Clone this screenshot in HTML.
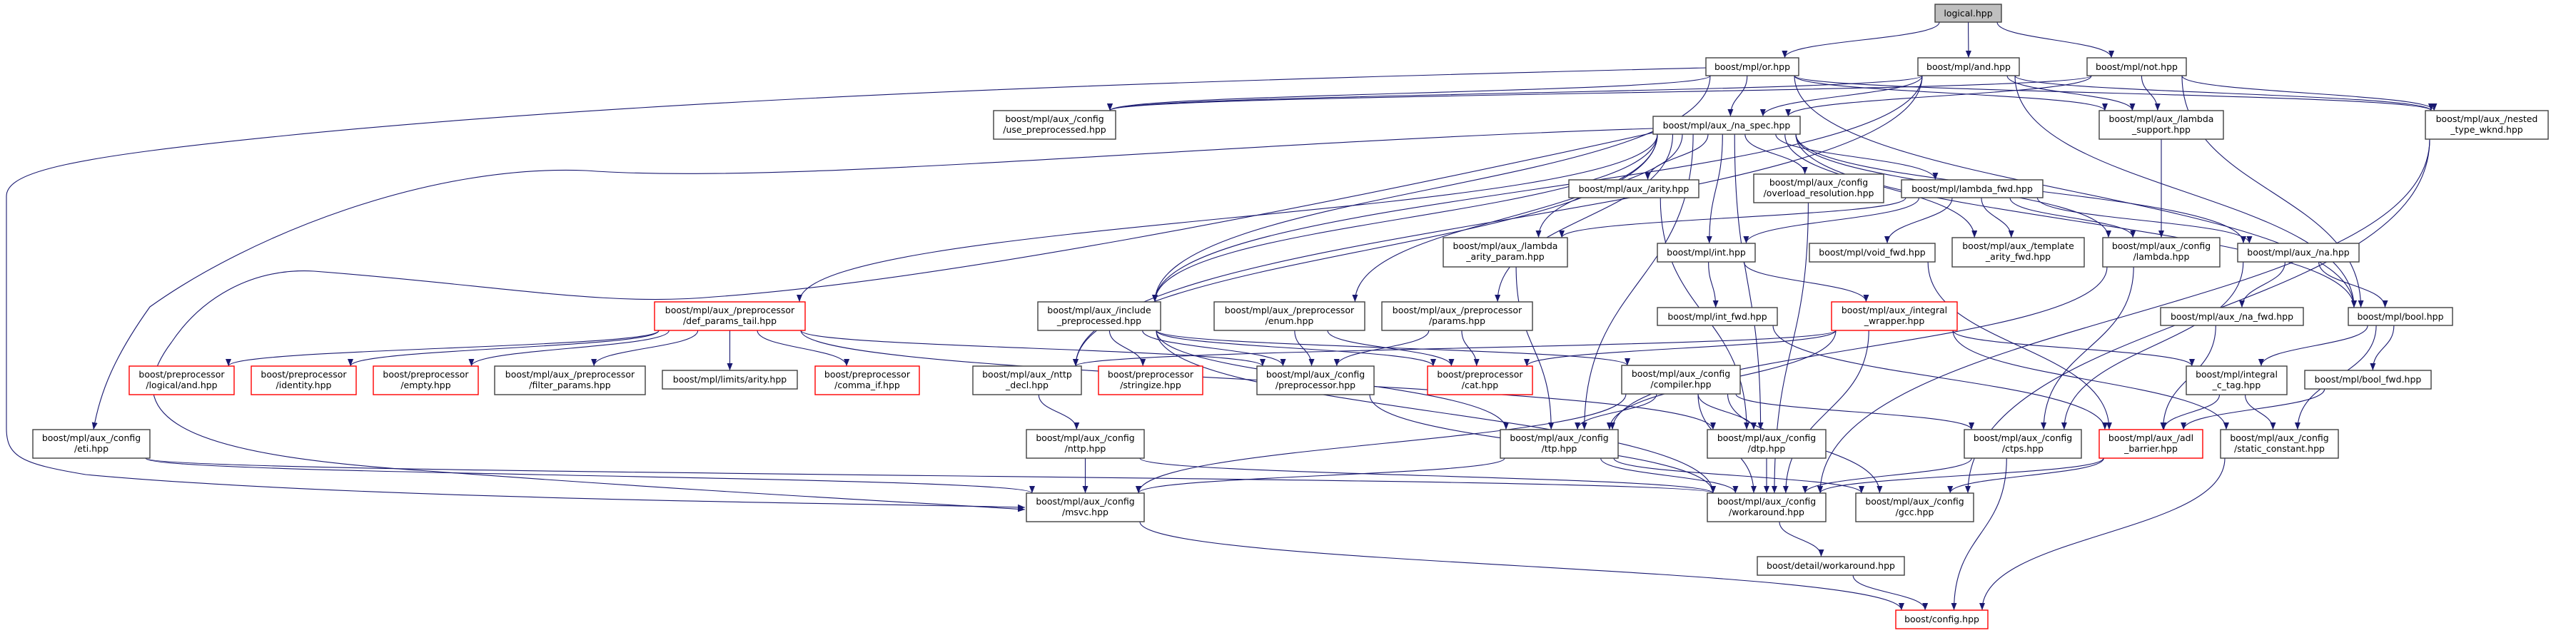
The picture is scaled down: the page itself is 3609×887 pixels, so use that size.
<!DOCTYPE html>
<html><head><meta charset="utf-8"><style>
html,body{margin:0;padding:0;background:#fff;}
svg{display:block;}
text{font-family:"DejaVu Sans","Liberation Sans",sans-serif;font-size:12.5px;fill:#000;text-anchor:middle;}
rect.n{fill:#fff;stroke:#404040;stroke-width:1.4;}
rect.r{fill:#fff;stroke:#ff0000;stroke-width:1.4;}
rect.g{fill:#bfbfbf;stroke:#404040;stroke-width:1.4;}
path.e{fill:none;stroke:#191970;stroke-width:1.1;}
</style></head><body>
<svg id="s" width="3609" height="887" viewBox="0 0 3609 887" xmlns="http://www.w3.org/2000/svg">
<defs><marker id="a" markerUnits="userSpaceOnUse" markerWidth="11" markerHeight="9" refX="10" refY="4" orient="auto"><path d="M0,0 L10,4 L0,8 z" fill="#191970"/></marker></defs>
<g id="edges">
<path class="e" marker-end="url(#a)" d="M2390,95 C1800,110 1000,130 400,190 C100,220 9,240 9,275 L9,600 C9,640 30,650 120,665 C500,700 1200,705 1436,711"/>
<path class="e" marker-end="url(#a)" d="M2316,180 C1700,200 1100,260 821,239 C600,230 350,330 210,430 C160,500 140,550 131,602"/>
<path class="e" marker-end="url(#a)" d="M2316,186 C1800,300 1300,395 1000,416 C850,430 700,400 440,380 C350,375 280,420 240,480 C150,600 300,640 600,660 C1000,690 1300,705 1436,714"/>
</g>
<g id="nodes">
<g id="logical"><rect class="g" x="2711" y="6" width="93" height="25"/><text x="2757.5" y="23">logical.hpp</text></g>
<g id="or"><rect class="n" x="2390" y="81" width="130" height="25"/><text x="2455" y="98">boost/mpl/or.hpp</text></g>
<g id="and"><rect class="n" x="2687" y="81" width="142" height="25"/><text x="2758" y="98">boost/mpl/and.hpp</text></g>
<g id="not"><rect class="n" x="2924" y="81" width="139" height="25"/><text x="2993.5" y="98">boost/mpl/not.hpp</text></g>
<g id="use_pre"><rect class="n" x="1392" y="155" width="171" height="40"/><text x="1477.5" y="171">boost/mpl/aux_/config</text><text x="1477.5" y="186">/use_preprocessed.hpp</text></g>
<g id="na_spec"><rect class="n" x="2316" y="163" width="206" height="25"/><text x="2419" y="180">boost/mpl/aux_/na_spec.hpp</text></g>
<g id="lsupport"><rect class="n" x="2941" y="155" width="174" height="40"/><text x="3028" y="171">boost/mpl/aux_/lambda</text><text x="3028" y="186">_support.hpp</text></g>
<g id="nested"><rect class="n" x="3398" y="155" width="172" height="40"/><text x="3484" y="171">boost/mpl/aux_/nested</text><text x="3484" y="186">_type_wknd.hpp</text></g>
<g id="arity"><rect class="n" x="2198" y="252" width="182" height="25"/><text x="2289" y="269">boost/mpl/aux_/arity.hpp</text></g>
<g id="overload"><rect class="n" x="2457" y="244" width="182" height="40"/><text x="2548" y="260">boost/mpl/aux_/config</text><text x="2548" y="275">/overload_resolution.hpp</text></g>
<g id="lfwd"><rect class="n" x="2664" y="252" width="198" height="25"/><text x="2763" y="269">boost/mpl/lambda_fwd.hpp</text></g>
<g id="lap"><rect class="n" x="2022" y="333" width="174" height="41"/><text x="2109" y="349">boost/mpl/aux_/lambda</text><text x="2109" y="364">_arity_param.hpp</text></g>
<g id="int"><rect class="n" x="2322" y="341" width="137" height="26"/><text x="2390.5" y="358">boost/mpl/int.hpp</text></g>
<g id="voidfwd"><rect class="n" x="2535" y="341" width="176" height="26"/><text x="2623" y="358">boost/mpl/void_fwd.hpp</text></g>
<g id="taf"><rect class="n" x="2735" y="333" width="185" height="41"/><text x="2827.5" y="349">boost/mpl/aux_/template</text><text x="2827.5" y="364">_arity_fwd.hpp</text></g>
<g id="clambda"><rect class="n" x="2946" y="333" width="164" height="41"/><text x="3028" y="349">boost/mpl/aux_/config</text><text x="3028" y="364">/lambda.hpp</text></g>
<g id="na"><rect class="n" x="3135" y="341" width="170" height="26"/><text x="3220" y="358">boost/mpl/aux_/na.hpp</text></g>
<g id="dpt"><rect class="r" x="917" y="423" width="211" height="40"/><text x="1022.5" y="439">boost/mpl/aux_/preprocessor</text><text x="1022.5" y="454">/def_params_tail.hpp</text></g>
<g id="incpre"><rect class="n" x="1454" y="423" width="172" height="40"/><text x="1540" y="439">boost/mpl/aux_/include</text><text x="1540" y="454">_preprocessed.hpp</text></g>
<g id="enum"><rect class="n" x="1701" y="423" width="211" height="40"/><text x="1806.5" y="439">boost/mpl/aux_/preprocessor</text><text x="1806.5" y="454">/enum.hpp</text></g>
<g id="params"><rect class="n" x="1936" y="423" width="211" height="40"/><text x="2041.5" y="439">boost/mpl/aux_/preprocessor</text><text x="2041.5" y="454">/params.hpp</text></g>
<g id="intfwd"><rect class="n" x="2322" y="431" width="168" height="25"/><text x="2406" y="448">boost/mpl/int_fwd.hpp</text></g>
<g id="iw"><rect class="r" x="2566" y="423" width="176" height="40"/><text x="2654" y="439">boost/mpl/aux_/integral</text><text x="2654" y="454">_wrapper.hpp</text></g>
<g id="nafwd"><rect class="n" x="3027" y="431" width="200" height="25"/><text x="3127" y="448">boost/mpl/aux_/na_fwd.hpp</text></g>
<g id="bool"><rect class="n" x="3290" y="431" width="146" height="25"/><text x="3363" y="448">boost/mpl/bool.hpp</text></g>
<g id="land"><rect class="r" x="181" y="513" width="147" height="40"/><text x="254.5" y="529">boost/preprocessor</text><text x="254.5" y="544">/logical/and.hpp</text></g>
<g id="identity"><rect class="r" x="352" y="513" width="147" height="40"/><text x="425.5" y="529">boost/preprocessor</text><text x="425.5" y="544">/identity.hpp</text></g>
<g id="empty"><rect class="r" x="523" y="513" width="147" height="40"/><text x="596.5" y="529">boost/preprocessor</text><text x="596.5" y="544">/empty.hpp</text></g>
<g id="filter"><rect class="n" x="693" y="513" width="211" height="40"/><text x="798.5" y="529">boost/mpl/aux_/preprocessor</text><text x="798.5" y="544">/filter_params.hpp</text></g>
<g id="larity"><rect class="n" x="928" y="519" width="189" height="26"/><text x="1022.5" y="536">boost/mpl/limits/arity.hpp</text></g>
<g id="comma"><rect class="r" x="1142" y="513" width="146" height="40"/><text x="1215" y="529">boost/preprocessor</text><text x="1215" y="544">/comma_if.hpp</text></g>
<g id="nttpdecl"><rect class="n" x="1363" y="513" width="152" height="40"/><text x="1439" y="529">boost/mpl/aux_/nttp</text><text x="1439" y="544">_decl.hpp</text></g>
<g id="stringize"><rect class="r" x="1539" y="513" width="146" height="40"/><text x="1612" y="529">boost/preprocessor</text><text x="1612" y="544">/stringize.hpp</text></g>
<g id="cpre"><rect class="n" x="1761" y="513" width="164" height="40"/><text x="1843" y="529">boost/mpl/aux_/config</text><text x="1843" y="544">/preprocessor.hpp</text></g>
<g id="cat"><rect class="r" x="2000" y="513" width="147" height="40"/><text x="2073.5" y="529">boost/preprocessor</text><text x="2073.5" y="544">/cat.hpp</text></g>
<g id="compiler"><rect class="n" x="2272" y="512" width="166" height="40"/><text x="2355" y="528">boost/mpl/aux_/config</text><text x="2355" y="543">/compiler.hpp</text></g>
<g id="ictag"><rect class="n" x="3063" y="513" width="141" height="40"/><text x="3133.5" y="529">boost/mpl/integral</text><text x="3133.5" y="544">_c_tag.hpp</text></g>
<g id="boolfwd"><rect class="n" x="3229" y="519" width="177" height="26"/><text x="3317.5" y="536">boost/mpl/bool_fwd.hpp</text></g>
<g id="eti"><rect class="n" x="46" y="602" width="164" height="40"/><text x="128" y="618">boost/mpl/aux_/config</text><text x="128" y="633">/eti.hpp</text></g>
<g id="nttp"><rect class="n" x="1438" y="602" width="165" height="40"/><text x="1520.5" y="618">boost/mpl/aux_/config</text><text x="1520.5" y="633">/nttp.hpp</text></g>
<g id="ttp"><rect class="n" x="2102" y="602" width="165" height="40"/><text x="2184.5" y="618">boost/mpl/aux_/config</text><text x="2184.5" y="633">/ttp.hpp</text></g>
<g id="dtp"><rect class="n" x="2392" y="602" width="166" height="40"/><text x="2475" y="618">boost/mpl/aux_/config</text><text x="2475" y="633">/dtp.hpp</text></g>
<g id="ctps"><rect class="n" x="2752" y="602" width="164" height="40"/><text x="2834" y="618">boost/mpl/aux_/config</text><text x="2834" y="633">/ctps.hpp</text></g>
<g id="adl"><rect class="r" x="2941" y="602" width="145" height="40"/><text x="3013.5" y="618">boost/mpl/aux_/adl</text><text x="3013.5" y="633">_barrier.hpp</text></g>
<g id="static"><rect class="n" x="3111" y="602" width="165" height="40"/><text x="3193.5" y="618">boost/mpl/aux_/config</text><text x="3193.5" y="633">/static_constant.hpp</text></g>
<g id="msvc"><rect class="n" x="1438" y="691" width="165" height="40"/><text x="1520.5" y="707">boost/mpl/aux_/config</text><text x="1520.5" y="722">/msvc.hpp</text></g>
<g id="workaround"><rect class="n" x="2392" y="691" width="166" height="40"/><text x="2475" y="707">boost/mpl/aux_/config</text><text x="2475" y="722">/workaround.hpp</text></g>
<g id="gcc"><rect class="n" x="2600" y="691" width="165" height="40"/><text x="2682.5" y="707">boost/mpl/aux_/config</text><text x="2682.5" y="722">/gcc.hpp</text></g>
<g id="dwork"><rect class="n" x="2462" y="780" width="206" height="26"/><text x="2565" y="797">boost/detail/workaround.hpp</text></g>
<g id="config"><rect class="r" x="2656" y="855" width="129" height="26"/><text x="2720.5" y="872">boost/config.hpp</text></g>
</g>
</svg>
<script>
(function(){
var E="logical>or logical>and logical>not or>na_spec or>use_pre or>lsupport or>nested or>bool or>incpre and>na_spec and>use_pre and>lsupport and>nested and>bool and>incpre and>nttpdecl not>na_spec not>lsupport not>nested not>bool not>use_pre na_spec>lfwd na_spec>na na_spec>arity na_spec>params na_spec>enum na_spec>dpt na_spec>lap na_spec>dtp na_spec>nttpdecl na_spec>ttp na_spec>clambda na_spec>overload na_spec>int na_spec>taf na_spec>bool na_spec>incpre lfwd>voidfwd lfwd>taf lfwd>clambda lfwd>na lfwd>int lfwd>lap lsupport>clambda nested>workaround nested>gcc overload>workaround arity>dtp lap>ttp int>intfwd int>iw intfwd>adl voidfwd>adl clambda>ttp clambda>ctps na>bool na>nafwd na>ctps nafwd>adl bool>boolfwd bool>ictag bool>static boolfwd>adl ictag>adl ictag>static iw>ictag iw>static iw>nttpdecl iw>cat iw>workaround iw>ttp dpt>land dpt>identity dpt>empty dpt>filter dpt>larity dpt>comma dpt>cpre dpt>dtp incpre>stringize incpre>cpre incpre>compiler incpre>cat incpre>ttp incpre>workaround enum>cpre enum>cat params>cpre params>cat nttpdecl>nttp compiler>ttp compiler>dtp compiler>ctps compiler>gcc compiler>workaround compiler>msvc cpre>workaround ttp>msvc ttp>gcc ttp>workaround dtp>workaround ctps>workaround ctps>config adl>workaround adl>gcc static>config workaround>dwork dwork>config msvc>config nttp>msvc nttp>workaround eti>msvc eti>workaround".split(" ");
var g=document.getElementById("edges"),NS="http://www.w3.org/2000/svg";
function R(id){var r=document.getElementById(id).querySelector("rect");return{x:+r.getAttribute("x"),y:+r.getAttribute("y"),w:+r.getAttribute("width"),h:+r.getAttribute("height")};}
function cl(v,a,b){return Math.max(a,Math.min(b,v));}
E.forEach(function(s){var p=s.split(">"),a=R(p[0]),b=R(p[1]);
var sc=a.x+a.w/2,tc=b.x+b.w/2;
var sx=cl(sc+(tc-sc)*0.2,a.x+6,a.x+a.w-6),sy=a.y+a.h;
var ex=cl(tc+(sc-tc)*0.15,b.x+8,b.x+b.w-8),ey=b.y;
var d=(ey-sy)*0.5;
var e=document.createElementNS(NS,"path");e.setAttribute("class","e");e.setAttribute("marker-end","url(#a)");
e.setAttribute("d","M"+sx+","+sy+" C"+sx+","+(sy+d)+" "+ex+","+(ey-d)+" "+ex+","+ey);g.appendChild(e);});
})();
</script>
</body></html>
